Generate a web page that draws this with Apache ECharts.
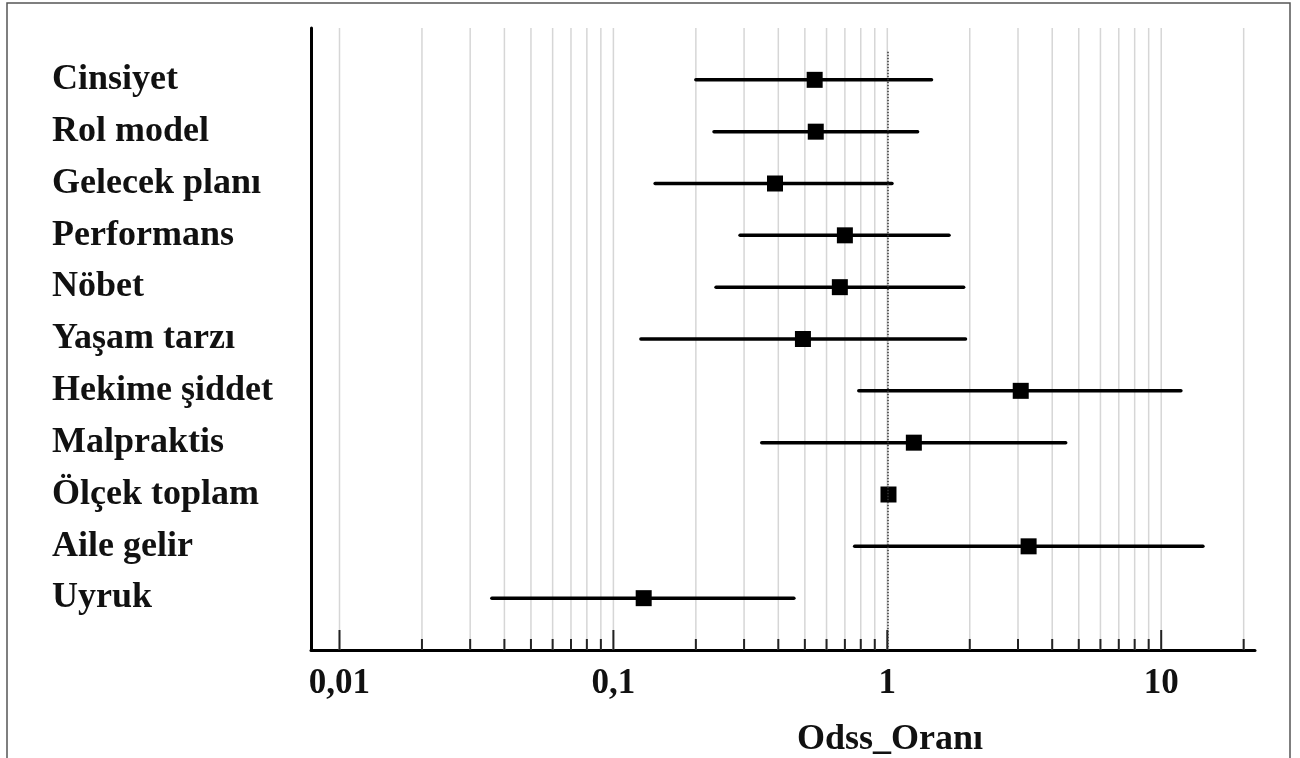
<!DOCTYPE html>
<html>
<head>
<meta charset="utf-8">
<title>Odds oranı</title>
<script src="https://cdn.jsdelivr.net/npm/echarts@6/dist/echarts.min.js"></script>
<style>
  html, body { margin: 0; padding: 0; background: #fff; }
  #chart { width: 1300px; height: 758px; }
</style>
</head>
<body>
<div id="chart"></div>
<script>
// degiskenler (ustten alta)
var labels = ['Cinsiyet', 'Rol model', 'Gelecek planı', 'Performans', 'Nöbet', 'Yaşam tarzı',
  'Hekime şiddet', 'Malpraktis', 'Ölçek toplam', 'Aile gelir', 'Uyruk'];
var oddsRatio = [0.543, 0.548, 0.389, 0.70, 0.671, 0.492, 3.07, 1.25, 1.01, 3.28, 0.129];
var ciLower = [0.20, 0.233, 0.142, 0.29, 0.237, 0.126, 0.787, 0.348, 0.995, 0.76, 0.036];
var ciUpper = [1.45, 1.29, 1.04, 1.68, 1.90, 1.93, 11.8, 4.48, 1.025, 14.2, 0.456];
// log eksen cizgileri
var gridValues = [0.01, 0.02, 0.03, 0.04, 0.05, 0.06, 0.07, 0.08, 0.09,
  0.1, 0.2, 0.3, 0.4, 0.5, 0.6, 0.7, 0.8, 0.9,
  1, 2, 3, 4, 5, 6, 7, 8, 9, 10, 20];
var tickLabels = { '0.01': '0,01', '0.1': '0,1', '1': '1', '10': '10' };

var font = "'Liberation Serif', 'Times New Roman', serif";

var myChart = echarts.init(document.getElementById('chart'));

var option = {
  animation: false,
  title: {
    text: 'Odss_Oranı',
    left: 797,
    top: 722,
    padding: 0,
    textStyle: { fontFamily: font, fontWeight: 'bold', fontSize: 36, color: '#111' }
  },
  graphic: [{
    type: 'rect',
    shape: { x: 7, y: 3, width: 1283, height: 800 },
    style: { fill: 'none', stroke: '#555', lineWidth: 1.5 },
    silent: true
  }],
  grid: { left: 311, right: 45, top: 28, bottom: 108 },
  xAxis: {
    type: 'log',
    logBase: 10,
    min: 0.00787,
    max: 22,
    splitNumber: 4,
    axisLine: { show: true, onZero: false, lineStyle: { color: '#000', width: 3 } },
    axisTick: { show: false },
    splitLine: { show: false },
    axisLabel: {
      margin: 16,
      fontFamily: font,
      fontWeight: 'bold',
      fontSize: 35,
      color: '#111',
      formatter: function (v) {
        var l = Math.log10(v);
        if (Math.abs(l - Math.round(l)) > 1e-6) return '';
        var key = String(Math.pow(10, Math.round(l)));
        return tickLabels[key] || '';
      }
    }
  },
  yAxis: {
    type: 'value',
    min: 0,
    max: 12,
    interval: 1,
    inverse: true,
    axisLine: { show: true, onZero: false, lineStyle: { color: '#000', width: 3 } },
    axisTick: { show: false },
    splitLine: { show: false },
    axisLabel: {
      align: 'left',
      margin: 259,
      fontFamily: font,
      fontWeight: 'bold',
      fontSize: 36,
      color: '#111',
      formatter: function (v) {
        return labels[v - 1] || '';
      }
    }
  },
  series: [
    {
      // dikey gri cizgiler + alt eksen tikleri
      type: 'custom',
      silent: true,
      z: 1,
      data: gridValues.map(function (v) { return [v, 0]; }),
      renderItem: function (params, api) {
        var v = api.value(0);
        var x = api.coord([v, 0])[0];
        var cs = params.coordSys;
        var bottom = cs.y + cs.height;
        var l = Math.log10(v);
        var major = Math.abs(l - Math.round(l)) < 1e-6;
        var len = major ? 20 : 11;
        return {
          type: 'group',
          children: [
            {
              type: 'line',
              shape: { x1: x, y1: cs.y, x2: x, y2: bottom },
              style: { stroke: '#d6d6d6', lineWidth: 1.5 }
            },
            {
              type: 'line',
              shape: { x1: x, y1: bottom - len, x2: x, y2: bottom },
              style: { stroke: '#222', lineWidth: 2 }
            }
          ]
        };
      }
    },
    {
      // guven araliklari
      type: 'custom',
      silent: true,
      z: 3,
      data: labels.map(function (n, i) { return [ciLower[i], ciUpper[i], i + 1]; }),
      renderItem: function (params, api) {
        var p1 = api.coord([api.value(0), api.value(2)]);
        var p2 = api.coord([api.value(1), api.value(2)]);
        return {
          type: 'line',
          shape: { x1: p1[0], y1: p1[1], x2: p2[0], y2: p2[1] },
          style: { stroke: '#000', lineWidth: 3.5, lineCap: 'round' }
        };
      }
    },
    {
      type: 'scatter',
      z: 4,
      symbol: 'rect',
      symbolSize: 16,
      itemStyle: { color: '#000', opacity: 1 },
      data: labels.map(function (n, i) { return [oddsRatio[i], i + 1]; }),
      markLine: {
        silent: true,
        symbol: 'none',
        label: { show: false },
        lineStyle: { color: '#333', type: 'dotted', width: 1.5 },
        data: [[{ coord: [1, 0.46] }, { coord: [1, 12] }]]
      }
    }
  ]
};

myChart.setOption(option, true);
</script>
</body>
</html>
